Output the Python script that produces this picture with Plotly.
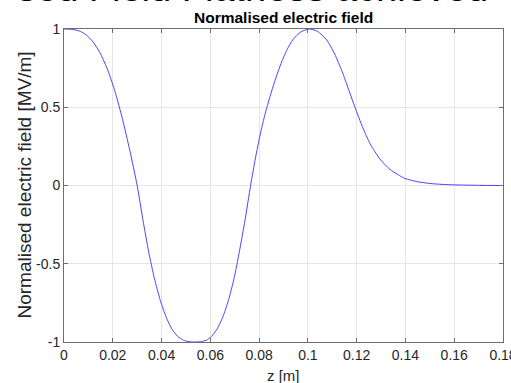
import plotly.graph_objects as go

# Axial position along the structure [m]
z_m = [0.0, 0.003, 0.006, 0.009, 0.012, 0.015, 0.018, 0.021, 0.024, 0.027,
       0.0300, 0.0324, 0.0347, 0.0371, 0.0395, 0.0419, 0.0442, 0.0466, 0.0490,
       0.0513, 0.0537, 0.0560, 0.0583, 0.0605, 0.0628, 0.0651, 0.0674, 0.0697,
       0.0719, 0.0742, 0.0765, 0.0785, 0.0805, 0.0825, 0.0845, 0.0865, 0.0890,
       0.0915, 0.0940, 0.0970, 0.1005, 0.1040, 0.1077, 0.1110, 0.1140, 0.1170,
       0.1193, 0.1225, 0.1255, 0.1296, 0.1337, 0.1398, 0.1450, 0.1500, 0.1550,
       0.1600, 0.1700, 0.1800]

# Normalised on-axis electric field
e_norm = [1.0, 0.998, 0.989, 0.964, 0.916, 0.841, 0.735, 0.596, 0.423, 0.223,
          0.0, -0.223, -0.423, -0.596, -0.735, -0.841, -0.916, -0.964, -0.989,
          -0.998, -1.0, -0.998, -0.989, -0.964, -0.916, -0.841, -0.735, -0.596,
          -0.423, -0.223, 0.0, 0.175, 0.33, 0.46, 0.57, 0.67, 0.78,
          0.87, 0.935, 0.98, 1.0, 0.985, 0.93, 0.84, 0.73, 0.60,
          0.5, 0.37, 0.267, 0.168, 0.102, 0.045, 0.024, 0.013, 0.007,
          0.004, 0.001, 0.0]

x_ticks = [0, 0.02, 0.04, 0.06, 0.08, 0.1, 0.12, 0.14, 0.16, 0.18]
x_tick_text = ["0", "0.02", "0.04", "0.06", "0.08", "0.1", "0.12", "0.14", "0.16", "0.18"]
y_ticks = [-1, -0.5, 0, 0.5, 1]
y_tick_text = ["-1", "-0.5", "0", "0.5", "1"]

FONT = "Liberation Sans, Arial, Helvetica, sans-serif"
AX = "#262626"

fig = go.Figure()
fig.add_trace(go.Scatter(
    x=z_m, y=e_norm, mode="lines",
    line=dict(color="rgb(70,70,255)", width=1, shape="spline", smoothing=0.6),
    showlegend=False, hoverinfo="skip",
))

axis_common = dict(
    showline=True, linecolor="#6e6e6e", linewidth=1, mirror="ticks",
    ticks="inside", ticklen=4, tickwidth=1, tickcolor="#6e6e6e",
    showgrid=True, gridcolor="#e6e6e6", gridwidth=1,
    zeroline=False, tickfont=dict(family=FONT, size=14, color=AX),
    ticklabeloverflow="allow", automargin=False,
)

fig.update_layout(
    width=511, height=383,
    margin=dict(l=64, r=8, t=29, b=41, autoexpand=False),
    paper_bgcolor="white", plot_bgcolor="white",
    xaxis=dict(range=[0, 0.18], tickvals=x_ticks, ticktext=x_tick_text, **axis_common),
    yaxis=dict(range=[-1, 1], tickvals=y_ticks, ticktext=y_tick_text, **axis_common),
    annotations=[
        dict(text="<b>Normalised electric field</b>", xref="paper", yref="paper",
             x=0.5, y=1, xanchor="center", yanchor="bottom", yshift=1,
             showarrow=False, font=dict(family=FONT, size=15.5, color="black")),
        dict(text="sed Field Flatness achieved", xref="paper", yref="paper",
             x=0.97, y=1, xanchor="right", yanchor="bottom", yshift=18,
             showarrow=False, font=dict(family=FONT, size=38, color="black")),
        dict(text="z [m]", xref="paper", yref="paper",
             x=0.5, y=0, xanchor="center", yanchor="middle", yshift=-33,
             showarrow=False, font=dict(family=FONT, size=15, color=AX)),
        dict(text="Normalised electric field [MV/m]", xref="paper", yref="paper",
             x=0, y=0.5, xanchor="center", yanchor="middle", xshift=-40,
             textangle=-90, showarrow=False, font=dict(family=FONT, size=19, color=AX)),
    ],
)

fig.write_html("out.html")
